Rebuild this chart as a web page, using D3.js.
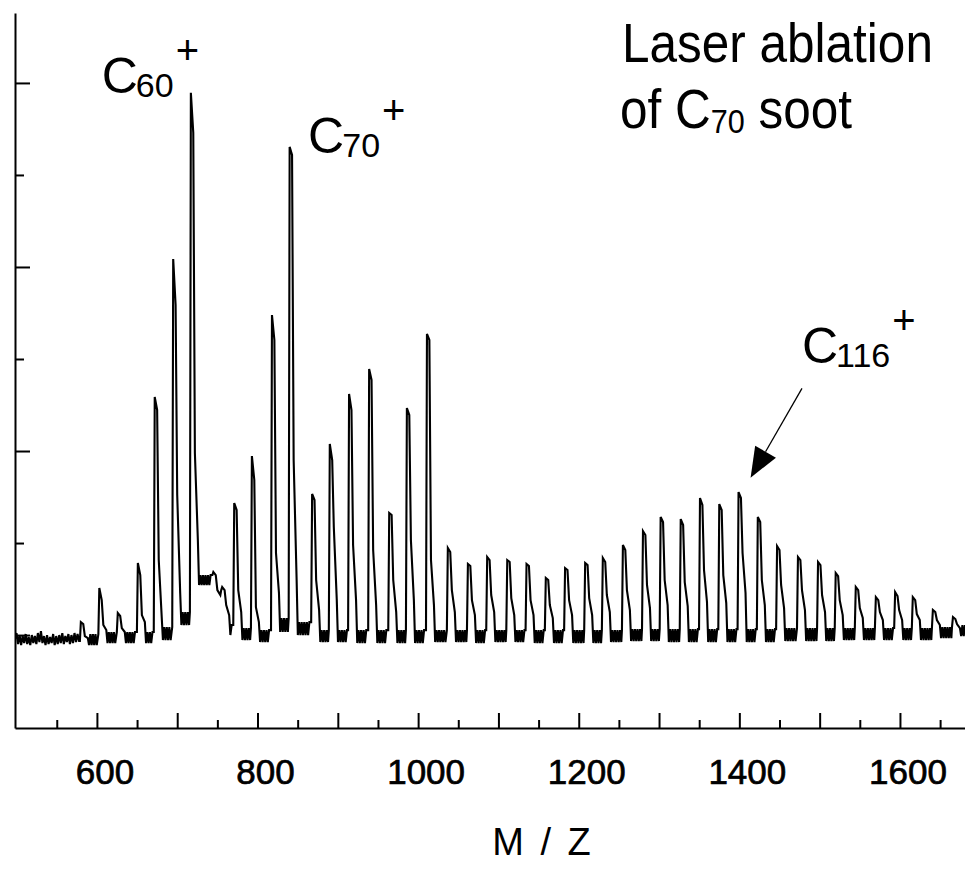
<!DOCTYPE html>
<html>
<head>
<meta charset="utf-8">
<script src="https://cdn.jsdelivr.net/npm/d3@7"></script>
<style>
  html, body { margin: 0; padding: 0; background: #fff; }
  svg { display: block; }
  text { font-family: "Liberation Sans", Arial, Helvetica, sans-serif; fill: #000; }
</style>
</head>
<body>
<svg id="chart" width="965" height="869"></svg>
<script>
// ---- axes ----
const mzDomain = [498, 1681];          // m/z range shown
const intDomain = [-101, 676];         // intensity (arb. units)
const xMajorTicks = [600, 700, 800, 900, 1000, 1100, 1200, 1300, 1400, 1500, 1600];
const xMinorTicks = [550, 650, 750, 850, 950, 1050, 1150, 1250, 1350, 1450, 1550, 1650];
const xLabelValues = [600, 800, 1000, 1200, 1400, 1600];
const xTickLabels = ["600", "800", "1000", "1200", "1400", "1600"];
const yMajorTicks = [0, 200, 400, 600];
const yMinorTicks = [100, 300, 500];
const xAxisTitle = "M / Z";

// ---- flat noisy baseline below the first cluster ----
const baseMz  = [498.0, 499.9, 501.8, 503.7, 505.6, 507.5, 509.4, 511.3, 513.2, 515.1, 517.0,
                 518.9, 520.8, 522.7, 524.6, 526.5, 528.4, 530.3, 532.2, 534.1, 536.0, 537.9,
                 539.8, 541.7, 543.6, 545.5, 547.4, 549.3, 551.2, 553.1, 555.0, 556.9, 558.8,
                 560.7, 562.6, 564.5, 566.4, 568.3, 570.2, 572.1, 574.0, 575.9, 577.8];
const baseInt = [-4.3, 2.2, -9.8, 0.0, -10.9, -1.1, -8.7, 1.1, -9.8, -2.2, -10.9,
                 0.0, -8.7, -1.1, -9.8, 2.2, -7.6, 4.3, -8.7, -1.1, -10.9, 0.0,
                 -9.8, -2.2, -8.7, 1.1, -10.9, -1.1, -9.8, 0.0, -8.7, 2.2, -9.8,
                 -1.1, -7.6, 1.1, -9.8, 0.0, -8.7, 2.2, -7.6, 1.1, -6.5];

// ---- carbon-cluster peaks: position, apex, level after the apex, shoulder, tail ----
const peakMz = [580, 603, 626, 651, 672, 695, 717, 745, 756, 771, 793, 818, 840, 868, 890, 914,
                939, 964, 986, 1011, 1037, 1062, 1086, 1111, 1135, 1159, 1183, 1208, 1230, 1255,
                1280, 1302, 1327, 1351, 1375, 1399, 1423, 1447, 1473, 1498, 1520, 1545, 1570,
                1594, 1616, 1641, 1666];
const peakTop = [14.1, 51.1, 23.9, 78.3, 258.7, 408.7, 589.2, 68.5, 52.2, 143.5, 194.6, 347.8,
                 530.5, 153.3, 207.6, 262.0, 289.1, 132.6, 246.7, 327.2, 94.6, 77.2, 84.8, 81.5,
                 77.2, 62.0, 72.8, 78.3, 83.7, 97.8, 113.0, 128.3, 126.1, 148.9, 142.4, 155.4,
                 128.3, 96.7, 84.8, 79.4, 67.4, 52.2, 41.3, 46.7, 41.3, 27.2, 19.6];
const peakCap = [12.0, 38.0, 20.7, 65.2, 244.6, 358.7, 545.7, 65.2, 48.9, 135.9, 168.5, 320.7,
                 521.8, 146.7, 190.2, 244.6, 277.2, 130.4, 239.1, 320.7, 90.2, 75.0, 81.5, 79.4,
                 75.0, 59.8, 70.7, 76.1, 79.4, 92.4, 108.7, 122.8, 119.6, 141.3, 135.9, 148.9,
                 122.8, 92.4, 81.5, 76.1, 64.1, 48.9, 38.0, 42.4, 38.0, 25.0, 17.4];
const peakShoulder = [-1.1, 10.9, 7.6, 21.7, 81.5, 152.2, 197.8, 48.9, 32.6, 48.9, 30.4, 89.1,
                 190.2, 59.8, 117.4, 97.8, 92.4, 59.8, 103.3, 81.5, 48.9, 38.0, 43.5, 40.2,
                 38.0, 32.6, 38.0, 40.2, 43.5, 48.9, 54.4, 59.8, 57.6, 70.7, 65.2, 89.1,
                 59.8, 54.4, 48.9, 43.5, 38.0, 29.3, 25.0, 27.2, 22.8, 16.3, 12.0];
const peakTail = [-3.3, 5.4, 3.3, 14.1, 19.6, 45.7, 103.3, 43.5, 21.7, 25.0, 14.1, 45.7,
                 59.8, 27.2, 38.0, 38.0, 32.6, 25.0, 38.0, 32.6, 25.0, 21.7, 25.0, 21.7,
                 21.7, 18.5, 21.7, 21.7, 25.0, 27.2, 29.3, 32.6, 31.5, 35.9, 34.8, 45.7,
                 32.6, 29.3, 27.2, 25.0, 21.7, 18.5, 16.3, 16.3, 16.3, 10.9, 7.6];
// noise band (low / high edge) in the valley that follows each peak
const valleyLo = [-10.9, -8.7, -8.7, -8.7, -5.4, 10.9, 54.4, 38.0, 0.0, -5.4, -7.6, 3.3,
                 0.0, -7.6, -7.6, -8.7, -8.7, -8.7, -8.7, -7.6, -7.6, -8.7, -7.6, -7.6,
                 -8.7, -8.7, -8.7, -8.7, -7.6, -6.5, -6.5, -7.6, -7.6, -7.6, -7.6, -7.6,
                 -7.6, -6.5, -6.5, -6.5, -5.4, -5.4, -5.4, -5.4, -5.4, -3.3, -1.1];
const valleyHi = [1.1, 3.3, 3.3, 3.3, 8.7, 25.0, 65.2, 48.9, 10.9, 7.6, 5.4, 18.5,
                 14.1, 5.4, 5.4, 5.4, 5.4, 5.4, 5.4, 5.4, 5.4, 5.4, 5.4, 5.4,
                 5.4, 5.4, 5.4, 5.4, 5.4, 6.5, 6.5, 6.5, 6.5, 6.5, 6.5, 6.5,
                 6.5, 7.6, 7.6, 7.6, 7.6, 7.6, 7.6, 7.6, 7.6, 8.7, 10.9];

// ---- annotations ----
const peakLabelMz  = [606, 863, 1478];
const peakLabelInt = [589, 524, 296];
const peakLabelSub = ["60", "70", "116"];
const arrowFrom = [1478, 268];   // [m/z, intensity]
const arrowTo   = [1414, 171];
const titleLines = ["Laser ablation", "of C", "70", " soot"];

// ---- scales ----
const svg = d3.select("#chart");
const x = d3.scaleLinear().domain(mzDomain).range([15, 965]);
const y = d3.scaleLinear().domain(intDomain).range([728, 13]);

// ---- spectrum trace ----
const trace = [];
baseMz.forEach((m, i) => trace.push([m, baseInt[i]]));
peakMz.forEach((m, i) => {
  const prevHi = i === 0 ? baseInt[baseInt.length - 1] : valleyHi[i - 1];
  trace.push([m - 1.2, prevHi]);
  trace.push([m, peakTop[i]]);
  trace.push([m + 3, peakCap[i]]);
  trace.push([m + 5, peakShoulder[i]]);
  trace.push([m + 8.7, peakTail[i]]);
  const end = i < peakMz.length - 1 ? peakMz[i + 1] - 2 : mzDomain[1];
  let k = 0;
  for (let v = m + 10.2; v < end; v += 1.6, k++) {
    trace.push([v, k % 2 === 0 ? valleyLo[i] : valleyHi[i]]);
  }
});

svg.append("defs").append("clipPath").attr("id", "plot")
  .append("rect").attr("x", 15).attr("y", 0).attr("width", 950).attr("height", 728);

svg.append("path")
  .datum(trace)
  .attr("clip-path", "url(#plot)")
  .attr("fill", "none")
  .attr("stroke", "#000")
  .attr("stroke-width", 2.1)
  .attr("stroke-linejoin", "miter")
  .attr("d", d3.line().x(d => x(d[0])).y(d => y(d[1])));

// ---- axes ----
function styleAxis(g) {
  g.selectAll("path.domain").attr("stroke", "#000").attr("stroke-width", 2);
  g.selectAll(".tick line").attr("stroke", "#000").attr("stroke-width", 2);
  g.selectAll(".tick text").remove();
}
svg.append("g").attr("transform", "translate(0,728)")
  .call(d3.axisBottom(x).tickValues(xMajorTicks).tickSizeInner(-15).tickSizeOuter(0))
  .call(styleAxis);
svg.append("g").attr("transform", "translate(0,728)")
  .call(d3.axisBottom(x).tickValues(xMinorTicks).tickSizeInner(-8).tickSizeOuter(0))
  .call(styleAxis).call(g => g.select("path.domain").remove());
svg.append("g").attr("transform", "translate(15,0)")
  .call(d3.axisLeft(y).tickValues(yMajorTicks).tickSizeInner(-15).tickSizeOuter(0))
  .call(styleAxis);
svg.append("g").attr("transform", "translate(15,0)")
  .call(d3.axisLeft(y).tickValues(yMinorTicks).tickSizeInner(-9).tickSizeOuter(0))
  .call(styleAxis).call(g => g.select("path.domain").remove());

// tick labels
svg.append("g").selectAll("text")
  .data(xLabelValues)
  .join("text")
  .attr("x", d => x(d) + 8)
  .attr("y", 784)
  .attr("text-anchor", "middle")
  .attr("font-size", 35)
  .attr("stroke", "#000")
  .attr("stroke-width", 0.7)
  .text((d, i) => xTickLabels[i]);

// axis title
svg.append("text")
  .attr("x", 543).attr("y", 855)
  .attr("text-anchor", "middle")
  .attr("font-size", 38)
  .attr("letter-spacing", 3)
  .text(xAxisTitle);

// ---- peak labels C_n+ ----
peakLabelMz.forEach((m, i) => {
  const t = svg.append("text")
    .attr("x", x(m)).attr("y", y(peakLabelInt[i]))
    .attr("font-size", 50);
  t.append("tspan").text("C");
  t.append("tspan").attr("font-size", 34).attr("dx", -2).attr("dy", 4).text(peakLabelSub[i]);
  t.append("tspan").attr("font-size", 40).attr("dx", 2).attr("dy", -33).text("+");
});

// ---- arrow to C116+ ----
const ax0 = x(arrowFrom[0]), ay0 = y(arrowFrom[1]);
const ax1 = x(arrowTo[0]),   ay1 = y(arrowTo[1]);
const len = Math.hypot(ax1 - ax0, ay1 - ay0);
const ux = (ax1 - ax0) / len, uy = (ay1 - ay0) / len;
const headLen = 30, headHalf = 12;
const bx = ax1 - headLen * ux, by = ay1 - headLen * uy;
svg.append("line")
  .attr("x1", ax0).attr("y1", ay0).attr("x2", bx).attr("y2", by)
  .attr("stroke", "#000").attr("stroke-width", 1.3);
svg.append("path")
  .attr("d", `M${ax1},${ay1}L${bx - headHalf * uy},${by + headHalf * ux}L${bx + headHalf * uy},${by - headHalf * ux}Z`)
  .attr("fill", "#000");

// ---- title ----
svg.append("text")
  .attr("transform", "translate(622,62) scale(0.9,1)")
  .attr("font-size", 55)
  .text(titleLines[0]);
const t2 = svg.append("text")
  .attr("transform", "translate(620,128) scale(0.9,1)")
  .attr("font-size", 55);
t2.append("tspan").text(titleLines[1]);
t2.append("tspan").attr("font-size", 34).attr("dx", 0).attr("dy", 5).text(titleLines[2]);
t2.append("tspan").attr("dy", -5).text(titleLines[3]);
</script>
</body>
</html>
